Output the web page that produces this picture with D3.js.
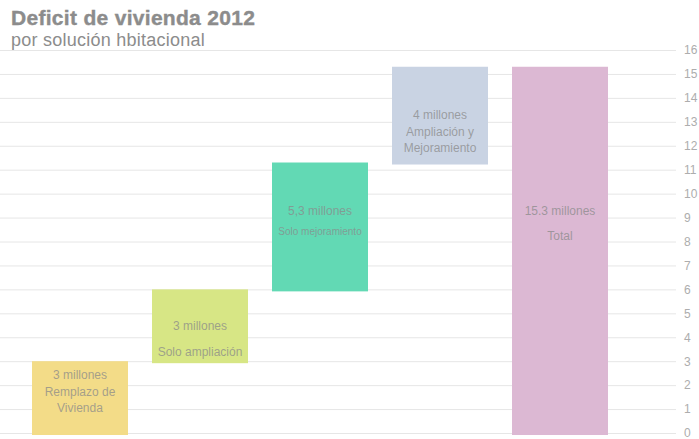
<!DOCTYPE html>
<html>
<head>
<meta charset="utf-8">
<script src="https://cdn.jsdelivr.net/npm/d3@7"></script>
<style>
  html, body { margin: 0; padding: 0; background: #fff; }
  svg { display: block; font-family: "Liberation Sans", Arial, sans-serif; }
</style>
</head>
<body>
<svg id="chart" width="699" height="439"></svg>
<script>
// Housing deficit 2012, by type of solution (millions)
const categories = ["Remplazo de Vivienda", "Solo ampliación", "Solo mejoramiento", "Ampliación y Mejoramiento", "Total"];
const values = [3, 3, 5.3, 4, 15.3];
const isTotal = [false, false, false, false, true];
const valueLabels = ["3 millones", "3 millones", "5,3 millones", "4 millones", "15.3 millones"];
const nameLines = [["Remplazo de", "Vivienda"], ["Solo ampliación"], ["Solo mejoramiento"], ["Ampliación y", "Mejoramiento"], ["Total"]];
const colors = ["#f3dc88", "#d7e685", "#62d9b4", "#c9d3e3", "#dcb8d3"];
const tickValues = d3.range(0, 17);

const svg = d3.select("#chart");

const x = d3.scaleBand().domain(categories).range([20, 620]).paddingInner(0.2).paddingOuter(0.1);
const y = d3.scaleLinear().domain([0, 16]).range([433, 50]);

// running start/end for each step of the waterfall
let run = 0;
const steps = categories.map((c, i) => {
  let start, end;
  if (isTotal[i]) { start = 0; end = values[i]; }
  else { start = run; end = run + values[i]; run = end; }
  return { c, i, start, end };
});

// grid lines + right axis
const axis = d3.axisRight(y).tickValues(tickValues).tickSize(0).tickPadding(0).tickFormat(d3.format("d"));
const gAxis = svg.append("g").attr("transform", "translate(684,0)").call(axis);
gAxis.select(".domain").remove();
gAxis.selectAll("text").attr("fill", "#adadad").style("font-size", "12px").attr("x", 0);
gAxis.selectAll(".tick").append("line")
  .attr("x1", -684).attr("x2", -8)
  .attr("stroke", "#e6e6e6").attr("stroke-width", 1);

// bars
svg.append("g").selectAll("rect").data(steps).join("rect")
  .attr("x", d => x(d.c))
  .attr("width", x.bandwidth())
  .attr("y", d => y(d.end))
  .attr("height", d => y(d.start) - y(d.end) + 2)
  .attr("fill", d => colors[d.i]);

// labels inside bars
const labelLayout = [
  { v: 379, n: [396, 412], vs: 12, ns: 12 },
  { v: 330, n: [356], vs: 12, ns: 12 },
  { v: 215, n: [235], vs: 12, ns: 10 },
  { v: 119, n: [136, 152], vs: 12, ns: 12 },
  { v: 215, n: [240], vs: 12, ns: 12 }
];
const labels = svg.append("g").attr("text-anchor", "middle").attr("fill", "#8a8a8a").attr("fill-opacity", 0.75);
steps.forEach(d => {
  const cx = x(d.c) + x.bandwidth() / 2;
  const L = labelLayout[d.i];
  labels.append("text").attr("x", cx).attr("y", L.v).style("font-size", L.vs + "px").text(valueLabels[d.i]);
  nameLines[d.i].forEach((t, k) => {
    labels.append("text").attr("x", cx).attr("y", L.n[k]).style("font-size", L.ns + "px").text(t);
  });
});

// title
svg.append("text").attr("x", 11).attr("y", 25)
  .attr("fill", "#8c8c8c").style("font-size", "21px").style("font-weight", "bold")
  .style("letter-spacing", "0.3px")
  .attr("stroke", "#8c8c8c").attr("stroke-width", 0.4)
  .text("Deficit de vivienda 2012");
svg.append("text").attr("x", 11).attr("y", 46)
  .attr("fill", "#8c8c8c").style("font-size", "18px").style("letter-spacing", "0.25px")
  .text("por solución hbitacional");
</script>
</body>
</html>
